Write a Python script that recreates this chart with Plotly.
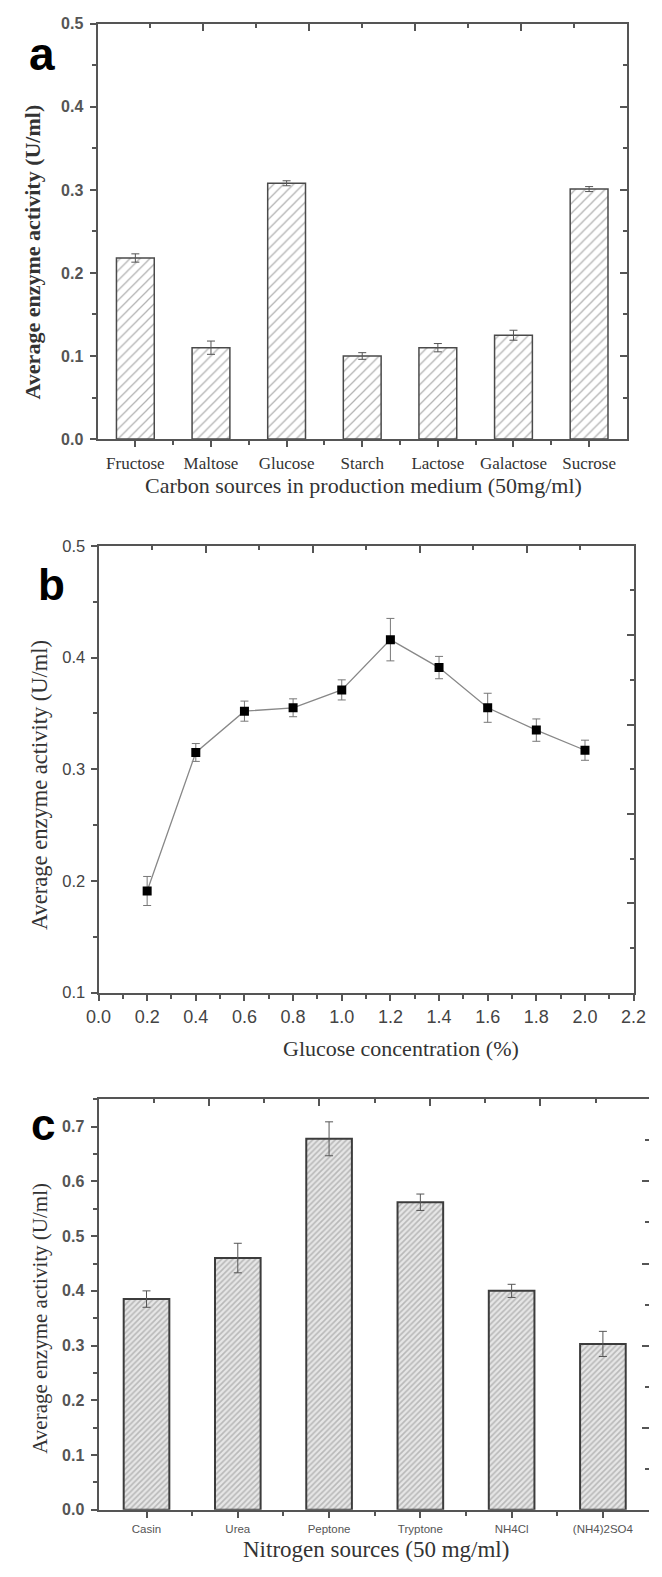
import plotly.graph_objects as go

W, H = 662, 1577

# ---------------- data ----------------
carbon_sources = ["Fructose", "Maltose", "Glucose", "Starch", "Lactose", "Galactose", "Sucrose"]
carbon_activity = [0.218, 0.110, 0.308, 0.100, 0.110, 0.125, 0.301]
carbon_err = [0.005, 0.008, 0.003, 0.004, 0.005, 0.006, 0.003]

glucose_conc = [0.2, 0.4, 0.6, 0.8, 1.0, 1.2, 1.4, 1.6, 1.8, 2.0]
glucose_activity = [0.191, 0.315, 0.352, 0.355, 0.371, 0.416, 0.391, 0.355, 0.335, 0.317]
glucose_err = [0.013, 0.008, 0.009, 0.008, 0.009, 0.019, 0.010, 0.013, 0.010, 0.009]

nitrogen_sources = ["Casin", "Urea", "Peptone", "Tryptone", "NH4Cl", "(NH4)2SO4"]
nitrogen_activity = [0.385, 0.460, 0.678, 0.562, 0.400, 0.303]
nitrogen_err = [0.015, 0.027, 0.031, 0.015, 0.012, 0.023]

y_title = "Average enzyme activity (U/ml)"
a_xtitle = "Carbon sources in production medium (50mg/ml)"
b_xtitle = "Glucose concentration (%)"
c_xtitle = "Nitrogen sources (50 mg/ml)"

# ---------------- helpers ----------------
def xd(l, r):
    return [l / W, min(r / W, 1.0)]

def yd(top, bottom):
    return [(H - bottom) / H, (H - top) / H]

AX = "#555555"
SERIF = "Liberation Serif"
SANS = "Liberation Sans"

fig = go.Figure()

# ---------------- panel a ----------------
a_pos = list(range(len(carbon_sources)))
fig.add_trace(go.Bar(
    x=a_pos, y=carbon_activity, width=0.5,
    marker=dict(color="white",
                line=dict(color="#4a4a4a", width=1.5),
                pattern=dict(shape="/", fgcolor="#666666", bgcolor="white", size=7, solidity=0.18)),
    error_y=dict(type="data", array=carbon_err, color="#555555", thickness=1, width=4),
    xaxis="x", yaxis="y", showlegend=False))

# ---------------- panel b ----------------
fig.add_trace(go.Scatter(
    x=glucose_conc, y=glucose_activity, mode="lines+markers",
    line=dict(color="#888888", width=1.3),
    marker=dict(symbol="square", size=9, color="black"),
    error_y=dict(type="data", array=glucose_err, color="#777777", thickness=1, width=4),
    xaxis="x3", yaxis="y3", showlegend=False))

# ---------------- panel c ----------------
c_pos = list(range(len(nitrogen_sources)))
fig.add_trace(go.Bar(
    x=c_pos, y=nitrogen_activity, width=0.5,
    marker=dict(color="#e4e4e4",
                line=dict(color="#3c3c3c", width=2),
                pattern=dict(shape="/", fgcolor="#8a8a8a", bgcolor="#e6e6e6", size=4, solidity=0.4)),
    error_y=dict(type="data", array=nitrogen_err, color="#555555", thickness=1, width=4),
    xaxis="x5", yaxis="y5", showlegend=False))

# empty traces so that the decorative overlay axes (top / right ticks) are drawn
for xa, ya in [("x2", "y"), ("x", "y2"), ("x4", "y3"), ("x3", "y4"), ("x6", "y5"), ("x5", "y6")]:
    fig.add_trace(go.Scatter(x=[], y=[], xaxis=xa, yaxis=ya, showlegend=False, hoverinfo="skip"))

def deco_x(overlay, anchor, rng):
    return dict(overlaying=overlay, anchor=anchor, side="top", range=rng,
                tickmode="array", tickvals=[2, 4, 6, 8], ticks="inside", ticklen=7, tickwidth=1.5,
                tickcolor=AX, showticklabels=False, showgrid=False, zeroline=False, showline=False,
                minor=dict(tickmode="array", tickvals=[1, 3, 5, 7, 9], ticks="inside", ticklen=4,
                           tickwidth=1.5, tickcolor=AX, showgrid=False))

def deco_y(overlay, anchor, rng, major, minor):
    return dict(overlaying=overlay, anchor=anchor, side="right", range=rng,
                tickmode="array", tickvals=major, ticks="inside", ticklen=7, tickwidth=1.5,
                tickcolor=AX, showticklabels=False, showgrid=False, zeroline=False, showline=False,
                minor=dict(tickmode="array", tickvals=minor, ticks="inside", ticklen=4,
                           tickwidth=1.5, tickcolor=AX, showgrid=False))

common_line = dict(showline=True, linecolor=AX, linewidth=2, showgrid=False, zeroline=False)

fig.update_layout(
    width=W, height=H, margin=dict(l=0, r=0, t=0, b=0),
    paper_bgcolor="white", plot_bgcolor="white",
    # panel a
    xaxis=dict(domain=xd(88, 639), anchor="y", range=[-0.5, 6.5], mirror=True,
               tickmode="array", tickvals=a_pos, ticktext=carbon_sources,
               ticks="outside", ticklen=6, tickwidth=1.5, tickcolor=AX, ticklabelstandoff=2,
               tickfont=dict(family=SERIF, size=17, color="#333333"),
               minor=dict(tickmode="array", tickvals=[p + 0.5 for p in a_pos[:-1]], ticks="outside",
                          ticklen=4, tickwidth=1.5, tickcolor=AX, showgrid=False),
               **common_line),
    yaxis=dict(domain=yd(15, 435), anchor="x", range=[0, 0.5], mirror=True,
               tickmode="linear", tick0=0, dtick=0.1, tickformat=".1f",
               ticks="outside", ticklen=6, tickwidth=1.5, tickcolor=AX, ticklabelstandoff=3,
               tickfont=dict(family=SANS, size=16, color="#555555", weight="bold"),
               minor=dict(dtick=0.05, ticks="outside", ticklen=4, tickwidth=1.5, tickcolor=AX, showgrid=False),
               **common_line),
    xaxis2=deco_x("x", "y", [0, 10]),
    yaxis2=deco_y("y", "x", [0, 0.5], [0.1, 0.2, 0.3, 0.4], [0.05, 0.15, 0.25, 0.35, 0.45]),
    # panel b
    xaxis3=dict(domain=xd(89, 646), anchor="y3", range=[0, 2.2], mirror=True,
                tickmode="linear", tick0=0, dtick=0.2, tickformat=".1f",
                ticks="outside", ticklen=6, tickwidth=1.5, tickcolor=AX, ticklabelstandoff=1,
                tickfont=dict(family=SANS, size=18, color="#444444"),
                minor=dict(dtick=0.1, ticks="outside", ticklen=4, tickwidth=1.5, tickcolor=AX, showgrid=False),
                **common_line),
    yaxis3=dict(domain=yd(543, 995), anchor="x3", range=[0.1, 0.5], mirror=True,
                tickmode="linear", tick0=0.1, dtick=0.1, tickformat=".1f",
                ticks="outside", ticklen=6, tickwidth=1.5, tickcolor=AX, ticklabelstandoff=2,
                tickfont=dict(family=SANS, size=16.5, color="#444444"),
                minor=dict(dtick=0.05, ticks="outside", ticklen=4, tickwidth=1.5, tickcolor=AX, showgrid=False),
                **common_line),
    xaxis4=deco_x("x3", "y3", [0, 10]),
    yaxis4=deco_y("y3", "x3", [0, 10], [2, 4, 6, 8], [1, 3, 5, 7, 9]),
    # panel c
    xaxis5=dict(domain=xd(89, 662), anchor="y5", range=[-0.526, 5.505], mirror=True,
                tickmode="array", tickvals=c_pos, ticktext=nitrogen_sources,
                ticks="outside", ticklen=6, tickwidth=1.5, tickcolor=AX, ticklabelstandoff=2,
                tickfont=dict(family=SANS, size=11.5, color="#555555"),
                minor=dict(tickmode="array", tickvals=[p + 0.5 for p in c_pos[:-1]], ticks="outside",
                           ticklen=4, tickwidth=1.5, tickcolor=AX, showgrid=False),
                **common_line),
    yaxis5=dict(domain=yd(1103, 1518), anchor="x5", range=[0, 0.75], mirror=False,
                tickmode="linear", tick0=0, dtick=0.1, tickformat=".1f",
                ticks="outside", ticklen=6, tickwidth=1.5, tickcolor=AX, ticklabelstandoff=3,
                tickfont=dict(family=SANS, size=16, color="#555555", weight="bold"),
                minor=dict(dtick=0.05, ticks="outside", ticklen=4, tickwidth=1.5, tickcolor=AX, showgrid=False),
                **common_line),
    xaxis6=deco_x("x5", "y5", [0, 573 / 57.5]),
    yaxis6=deco_y("y5", "x5", [0, 10], [2, 4, 6, 8], [1, 3, 5, 7, 9]),
)

def ann(text, xpx, ypx, size, family, color="#222222", angle=0, bold=False, xanchor="center"):
    fig.add_annotation(text=text, x=xpx / W, y=(H - ypx) / H, xref="paper", yref="paper",
                       showarrow=False, textangle=angle, xanchor=xanchor, yanchor="middle",
                       font=dict(size=size, family=family, color=color, weight="bold" if bold else "normal"))

# panel letters
ann("a", 30, 46, 46, SANS, color="black", bold=True)
ann("b", 40, 582, 44, SANS, color="black", bold=True)
ann("c", 31, 1128, 44, SANS, color="black", bold=True)

# y titles
ann(y_title, 20, 246, 22, SERIF, color="#333333", angle=-90, bold=True)
ann(y_title, 27, 785, 22.5, SERIF, color="#333333", angle=-90)
ann(y_title, 28, 1324, 21, SERIF, color="#333333", angle=-90)

# x titles
ann(a_xtitle, 365, 482, 22, SERIF, color="#333333")
ann(b_xtitle, 404, 1051, 22, SERIF, color="#333333")
ann(c_xtitle, 378, 1558, 23, SERIF, color="#333333")

fig.write_html("out.html")
